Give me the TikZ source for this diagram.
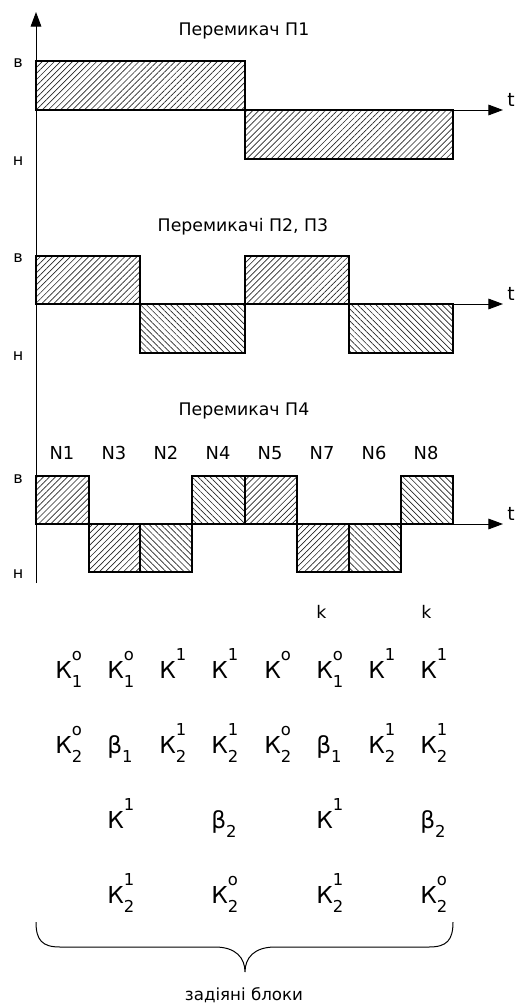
\documentclass[tikz,border=0pt]{standalone}
\usepackage{fontspec}
\setmainfont{DejaVu Sans}
\usetikzlibrary{patterns.meta,arrows.meta}
\newcommand\scrfont{\fontsize{12.3pt}{12.3pt}\selectfont}
\newcommand\supsub[2]{\rlap{\raisebox{0.77em}{\scrfont #1}}\raisebox{-0.39em}{\scrfont #2}}
\newcommand\supo[1]{\raisebox{0.77em}{\scrfont #1}}
\newcommand\subo[1]{\raisebox{-0.39em}{\scrfont #1}}
\begin{document}
\begin{tikzpicture}[x=0.75pt,y=-0.75pt,
  box/.style={draw=black,line width=0.8pt},
  hne/.style={box,pattern={Lines[angle=45,distance=3.2pt,line width=0.5pt]},pattern color=black!85},
  hnw/.style={box,pattern={Lines[angle=-45,distance=3.2pt,line width=0.5pt]},pattern color=black!85},
  axisline/.style={line width=0.75pt,-{Triangle[length=11pt,width=8pt]}},
  ttl/.style={font=\fontsize{13pt}{13pt}\selectfont,anchor=base,inner sep=0pt},
  lvl/.style={font=\fontsize{12pt}{12pt}\selectfont,anchor=base,inner sep=0pt},
  tlab/.style={font=\fontsize{14pt}{14pt}\selectfont,anchor=base west,inner sep=0pt},
  nlab/.style={font=\fontsize{13.4pt}{13.4pt}\selectfont,anchor=base,inner sep=0pt},
  frm/.style={font=\fontsize{17.5pt}{17.5pt}\selectfont,anchor=base west,inner sep=0pt},
  klab/.style={font=\fontsize{13pt}{13pt}\selectfont,anchor=base west,inner sep=0pt},
  blab/.style={font=\fontsize{12.5pt}{12.5pt}\selectfont,anchor=base,inner sep=0pt},
  brace/.style={line width=0.75pt}
]
\useasboundingbox (0,0) rectangle (517,1003);

% ---------- plot 1
\draw[hne] (36,61) rectangle (245,110);
\draw[hne] (245,110) rectangle (453,159);
% ---------- plot 2
\draw[hne] (36,256) rectangle (140,304);
\draw[hnw] (140,304) rectangle (245,353);
\draw[hne] (245,256) rectangle (349,304);
\draw[hnw] (349,304) rectangle (453,353);
% ---------- plot 3
\draw[hne] (36,476) rectangle (89,524);
\draw[hne] (89,524) rectangle (140,572);
\draw[hnw] (140,524) rectangle (192,572);
\draw[hnw] (192,476) rectangle (245,524);
\draw[hne] (245,476) rectangle (297,524);
\draw[hne] (297,524) rectangle (349,572);
\draw[hnw] (349,524) rectangle (401,572);
\draw[hnw] (401,476) rectangle (453,524);

% ---------- axes
\coordinate (vbot) at (36,583);
\coordinate (vtop) at (36,12);
\draw[axisline] (vbot) -- (vtop);
\coordinate (o1) at (36,110); \coordinate (e1) at (503,110);
\coordinate (o2) at (36,304); \coordinate (e2) at (503,304);
\coordinate (o3) at (36,524); \coordinate (e3) at (503,524);
\draw[axisline] (o1) -- (e1);
\draw[axisline] (o2) -- (e2);
\draw[axisline] (o3) -- (e3);

\node[tlab] (t1) at (507,106) {t};
\node[tlab] (t2) at (507,300) {t};
\node[tlab] (t3) at (507,520) {t};

% ---------- titles
\node[ttl] (ttl1) at (244,36) {Перемикач П1};
\node[ttl] (ttl2) at (243,231) {Перемикачі П2, П3};
\node[ttl] (ttl3) at (244,415) {Перемикач П4};

% ---------- level labels
\node[lvl] (v1) at (18,67) {в};
\node[lvl] (n1) at (18,165) {н};
\node[lvl] (v2) at (18,262) {в};
\node[lvl] (n2) at (18,360) {н};
\node[lvl] (v3) at (18,483) {в};
\node[lvl] (n3) at (18,578) {н};

% ---------- N labels
\node[nlab] (N1) at (62,459) {N1};
\node[nlab] (N3) at (114,459) {N3};
\node[nlab] (N2) at (166,459) {N2};
\node[nlab] (N4) at (218,459) {N4};
\node[nlab] (N5) at (270,459) {N5};
\node[nlab] (N7) at (322,459) {N7};
\node[nlab] (N6) at (374,459) {N6};
\node[nlab] (N8) at (426,459) {N8};

% ---------- k labels
\node[klab] (k1) at (316,618) {k};
\node[klab] (k2) at (421,618) {k};

% ---------- row 1
\node[frm] (a1) at (55,678) {К\supsub{o}{1}};
\node[frm] (a2) at (107,678) {К\supsub{o}{1}};
\node[frm] (a3) at (159,678) {К\supo{1}};
\node[frm] (a4) at (211,678) {К\supo{1}};
\node[frm] (a5) at (264,678) {К\supo{o}};
\node[frm] (a6) at (316,678) {К\supsub{o}{1}};
\node[frm] (a7) at (368,678) {К\supo{1}};
\node[frm] (a8) at (420,678) {К\supo{1}};
% ---------- row 2
\node[frm] (b1) at (55,753) {К\supsub{o}{2}};
\node[frm] (b2) at (107,753) {β\subo{1}};
\node[frm] (b3) at (159,753) {К\supsub{1}{2}};
\node[frm] (b4) at (211,753) {К\supsub{1}{2}};
\node[frm] (b5) at (264,753) {К\supsub{o}{2}};
\node[frm] (b6) at (316,753) {β\subo{1}};
\node[frm] (b7) at (368,753) {К\supsub{1}{2}};
\node[frm] (b8) at (420,753) {К\supsub{1}{2}};
% ---------- row 3
\node[frm] (c2) at (107,828) {К\supo{1}};
\node[frm] (c4) at (211,828) {β\subo{2}};
\node[frm] (c6) at (316,828) {К\supo{1}};
\node[frm] (c8) at (420,828) {β\subo{2}};
% ---------- row 4
\node[frm] (d2) at (107,903) {К\supsub{1}{2}};
\node[frm] (d4) at (211,903) {К\supsub{o}{2}};
\node[frm] (d6) at (316,903) {К\supsub{1}{2}};
\node[frm] (d8) at (420,903) {К\supsub{o}{2}};

% ---------- brace
\coordinate (bl) at (36,922);
\coordinate (br) at (453,922);
\coordinate (btip) at (245,972);
\draw[brace] (bl) .. controls (36,940) and (42,947) .. (60,947) -- (215,947)
  .. controls (236,947) and (245,958) .. (btip)
  .. controls (245,958) and (254,947) .. (275,947) -- (429,947)
  .. controls (447,947) and (453,940) .. (br);
\node[blab] (blk) at (244,1000) {задіяні блоки};
\end{tikzpicture}
\end{document}
